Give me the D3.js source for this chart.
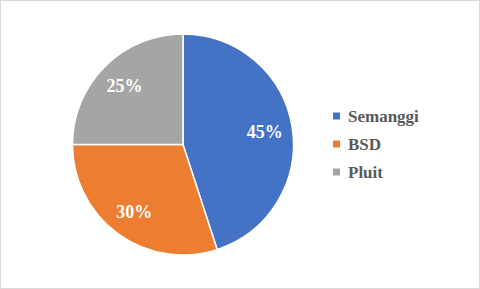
<!DOCTYPE html>
<html>
<head>
<style>
body { margin: 0; background: #fff; }
</style>
</head>
<body>
<script src="https://cdn.jsdelivr.net/npm/d3@7"></script>
<script>
var width = 480, height = 289;

// data
var categories = ["Semanggi", "BSD", "Pluit"];
var values = [45, 30, 25];
var colors = ["#4472c4", "#ed7d31", "#a5a5a5"];

var svg = d3.select("body").append("svg")
    .attr("width", width)
    .attr("height", height);

// chart border
svg.append("rect")
    .attr("x", 0.5).attr("y", 0.5)
    .attr("width", width - 1).attr("height", height - 1)
    .attr("fill", "#fff")
    .attr("stroke", "#d9d9d9");

var cx = 183, cy = 144.5, r = 110.5;

var pie = d3.pie().sort(null).value(function(d){ return d; });
var arcs = pie(values);
var arc = d3.arc().innerRadius(0).outerRadius(r);
var labelArc = d3.arc().innerRadius(r * 0.75).outerRadius(r * 0.75);

var g = svg.append("g").attr("transform", "translate(" + cx + "," + cy + ")");

g.selectAll("path")
    .data(arcs)
  .enter().append("path")
    .attr("d", arc)
    .attr("fill", function(d, i){ return colors[i]; })
    .attr("stroke", "#fff")
    .attr("stroke-width", 1.5);

g.selectAll("text")
    .data(arcs)
  .enter().append("text")
    .attr("transform", function(d){ return "translate(" + labelArc.centroid(d) + ")"; })
    .attr("text-anchor", "middle")
    .attr("dy", "0.35em")
    .style("font-family", "'Liberation Serif', 'Times New Roman', serif")
    .style("font-weight", "bold")
    .style("font-size", "18px")
    .attr("fill", "#fff")
    .text(function(d){ return d.data + "%"; });

// legend
var legend = svg.append("g").attr("transform", "translate(333,116)");
var item = legend.selectAll("g")
    .data(categories)
  .enter().append("g")
    .attr("transform", function(d, i){ return "translate(0," + (i * 28) + ")"; });

item.append("rect")
    .attr("x", 0).attr("y", -3.5)
    .attr("width", 7).attr("height", 7)
    .attr("fill", function(d, i){ return colors[i]; });

item.append("text")
    .attr("x", 15)
    .attr("dy", "0.35em")
    .style("font-family", "'Liberation Serif', 'Times New Roman', serif")
    .style("font-weight", "bold")
    .style("font-size", "17px")
    .attr("fill", "#595959")
    .text(function(d){ return d; });
</script>
</body>
</html>
